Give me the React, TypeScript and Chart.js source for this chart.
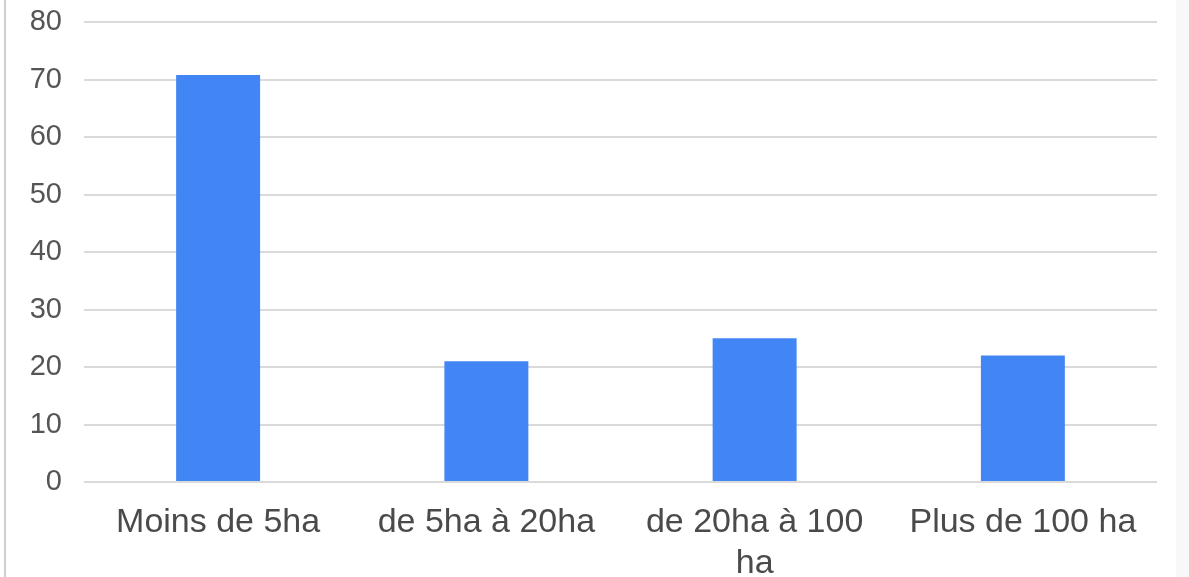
import React, { useEffect, useRef } from "react";
import { Chart, registerables } from "chart.js";

Chart.register(...registerables);

const categories: (string | string[])[] = [
  "Moins de 5ha",
  "de 5ha à 20ha",
  ["de 20ha à 100", "ha"],
  "Plus de 100 ha",
];
const values = [70.8, 21, 25, 22];
const yTicks = [0, 10, 20, 30, 40, 50, 60, 70, 80];

const borderPlugin = {
  id: "leftBorder",
  beforeDraw(chart: any) {
    const ctx = chart.ctx;
    ctx.save();
    ctx.fillStyle = "#ffffff";
    ctx.fillRect(0, 0, chart.width, chart.height);
    ctx.fillStyle = "#cfcfcf";
    ctx.fillRect(4, 0, 2, chart.height);
    ctx.fillStyle = "#f8f8f8";
    ctx.fillRect(1176, 0, 13, chart.height);
    ctx.restore();
  },
};

export default function App() {
  const ref = useRef<HTMLCanvasElement>(null);
  useEffect(() => {
    document.body.style.margin = "0";
    const chart = new Chart(ref.current!, {
      type: "bar",
      data: {
        labels: categories,
        datasets: [
          {
            data: values,
            backgroundColor: "#4285f4",
            categoryPercentage: 1,
            barPercentage: 0.313,
          },
        ],
      },
      plugins: [borderPlugin],
      options: {
        animation: false,
        responsive: false,
        layout: { padding: { top: 22, right: 32, left: 10, bottom: 0 } },
        plugins: { legend: { display: false }, tooltip: { enabled: false }, title: { display: false } },
        scales: {
          x: {
            grid: { display: false },
            border: { display: false },
            ticks: {
              font: { family: "Liberation Sans, Arial", size: 34 },
              color: "#4a4a4a",
              maxRotation: 0,
              autoSkip: false,
              padding: 12,
              lineHeight: 1.0,
            },
            afterFit(scale: any) {
              scale.height = 95;
            },
          },
          y: {
            min: 0,
            max: 80,
            afterBuildTicks(scale: any) {
              scale.ticks = yTicks.map((v) => ({ value: v }));
            },
            grid: {
              color: "#dadada",
              lineWidth: 2,
              drawTicks: true,
              tickLength: 20,
              tickColor: "rgba(0,0,0,0)",
            },
            border: { display: false },
            ticks: {
              font: { family: "Liberation Sans, Arial", size: 29 },
              color: "#555555",
              padding: 2,
            },
            afterFit(scale: any) {
              scale.width = 74;
            },
          },
        },
      },
    });
    return () => chart.destroy();
  }, []);
  return (
    <div style={{ width: 1189, height: 577 }}>
      <canvas ref={ref} width={1189} height={577} style={{ display: "block" }} />
    </div>
  );
}
